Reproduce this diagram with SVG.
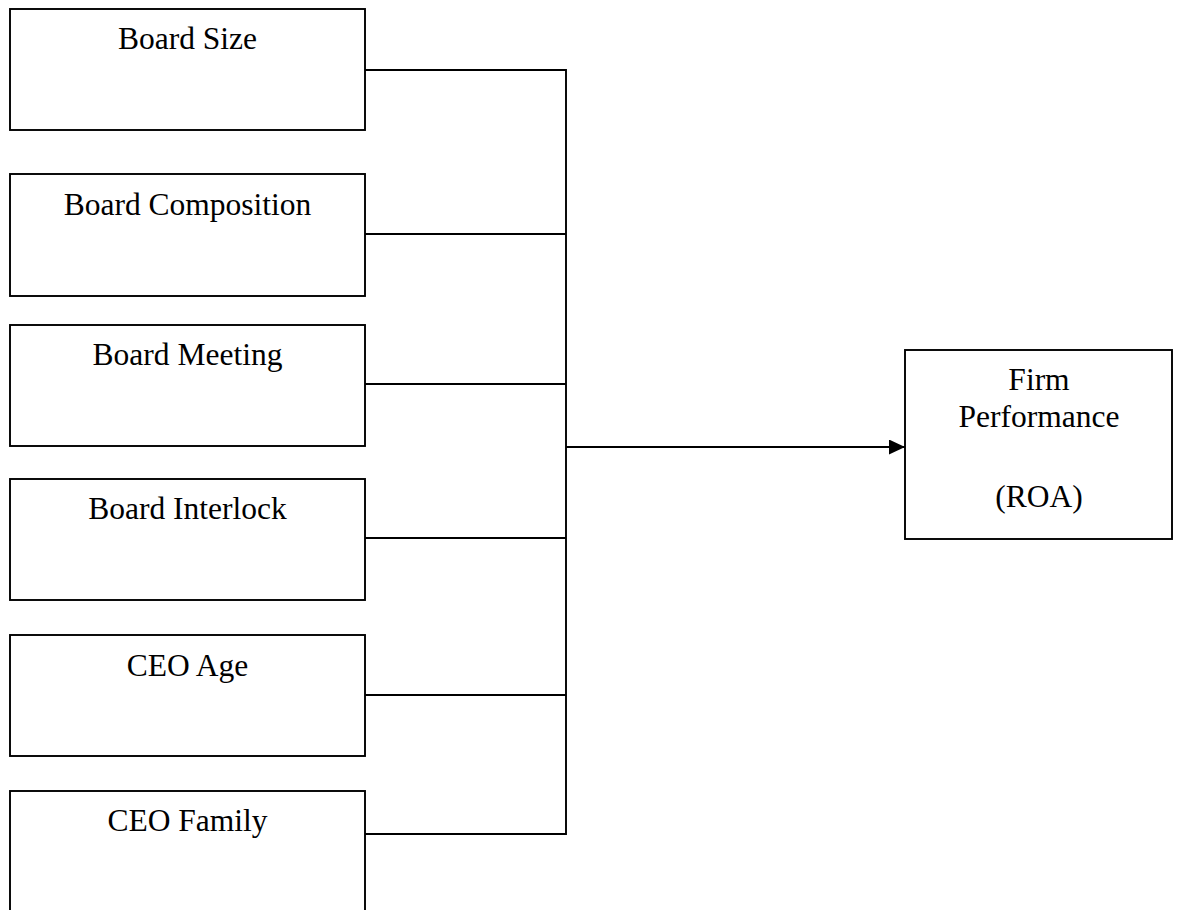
<svg xmlns="http://www.w3.org/2000/svg" width="1179" height="910" viewBox="0 0 1179 910">
<style>
.box{fill:#fff;stroke:#000;stroke-width:1.9}
.lbl{font-family:"Liberation Serif","Times New Roman",serif;font-size:31.5px;fill:#000;text-anchor:middle}
.con{fill:none;stroke:#000;stroke-width:1.9}
</style>
<defs>
<marker id="ah" markerWidth="16" markerHeight="15" refX="16" refY="7.5" orient="auto" markerUnits="userSpaceOnUse">
<path d="M0,0 L16,7.5 L0,15 Z" fill="#000"/>
</marker>
</defs>
<rect width="1179" height="910" fill="#fff"/>
<g id="board-size"><rect class="box" x="10" y="9" width="355" height="121"/><text class="lbl" x="187.5" y="49">Board Size</text></g>
<g id="board-composition"><rect class="box" x="10" y="174" width="355" height="122"/><text class="lbl" x="187.5" y="215">Board Composition</text></g>
<g id="board-meeting"><rect class="box" x="10" y="325" width="355" height="121"/><text class="lbl" x="187.5" y="365">Board Meeting</text></g>
<g id="board-interlock"><rect class="box" x="10" y="479" width="355" height="121"/><text class="lbl" x="187.5" y="519">Board Interlock</text></g>
<g id="ceo-age"><rect class="box" x="10" y="635" width="355" height="121"/><text class="lbl" x="187.5" y="676">CEO Age</text></g>
<g id="ceo-family"><rect class="box" x="10" y="791" width="355" height="140"/><text class="lbl" x="187.5" y="831">CEO Family</text></g>
<g id="firm-performance"><rect class="box" x="905" y="350" width="267" height="189"/>
<text class="lbl" x="1039" y="390">Firm</text>
<text class="lbl" x="1039" y="427">Performance</text>
<text class="lbl" x="1039" y="507">(ROA)</text></g>
<g id="connectors">
<path class="con" d="M365,70 H566 V834 H365"/>
<path class="con" d="M365,234 H566"/>
<path class="con" d="M365,384 H566"/>
<path class="con" d="M365,538 H566"/>
<path class="con" d="M365,695 H566"/>
<path class="con" d="M566,447 H905" stroke-width="2.4" marker-end="url(#ah)"/>
</g>
</svg>
